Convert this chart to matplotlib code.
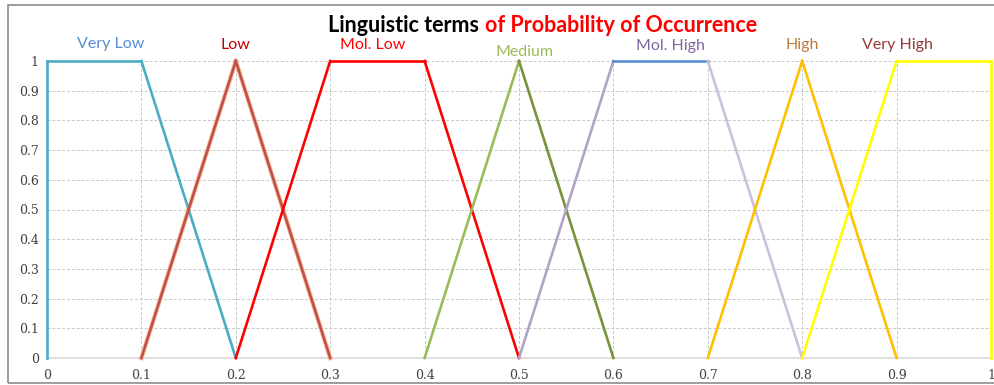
import matplotlib.pyplot as plt
from matplotlib.patches import Rectangle

# --- data ---
terms = ['Very Low', 'Low', 'Mol. Low', 'Medium', 'Mol. High', 'High', 'Very High']

very_low_x = [0, 0, 0.1, 0.2]
very_low_y = [0, 1, 1, 0]
low_x = [0.1, 0.2, 0.3]
low_y = [0, 1, 0]
mol_low_x = [0.2, 0.3, 0.4, 0.5]
mol_low_y = [0, 1, 1, 0]
medium_x = [0.4, 0.5, 0.6]
medium_y = [0, 1, 0]
mol_high_x = [0.5, 0.6, 0.7, 0.8]
mol_high_y = [0, 1, 1, 0]
high_x = [0.7, 0.8, 0.9]
high_y = [0, 1, 0]
very_high_x = [0.8, 0.9, 1.0, 1.0]
very_high_y = [0, 1, 1, 0]

xs = [very_low_x, low_x, mol_low_x, medium_x, mol_high_x, high_x, very_high_x]
ys = [very_low_y, low_y, mol_low_y, medium_y, mol_high_y, high_y, very_high_y]

# colour of each segment of each term
seg_colors = [
    ['#4BACC6', '#4BACC6', '#4BACC6'],
    ['#C0504D', '#C0504D'],
    ['#FF0000', '#FF0000', '#FF0000'],
    ['#9BBB59', '#77933C'],
    ['#B3A2C7', '#558ED5', '#CCC0DA'],
    ['#FFC000', '#FFC000'],
    ['#FFFF00', '#FFFF00', '#FFFF00'],
]
label_colors = ['#558ED5', '#C00000', '#FF0000', '#9BBB59', '#8064A2', '#BD7B3A', '#953735']
label_x = [0.067, 0.2, 0.345, 0.506, 0.66, 0.8, 0.901]
label_y = [1.057, 1.054, 1.054, 1.03, 1.05, 1.054, 1.054]

ticks = [0, 0.1, 0.2, 0.3, 0.4, 0.5, 0.6, 0.7, 0.8, 0.9, 1]
tick_labels = ['0', '0.1', '0.2', '0.3', '0.4', '0.5', '0.6', '0.7', '0.8', '0.9', '1']

# --- plot ---
fig = plt.figure(figsize=(9.94, 3.85), dpi=100)
ax = fig.add_axes([47 / 994, 1 - 358 / 385, 944 / 994, 297 / 385])

for x, y, cols in zip(xs, ys, seg_colors):
    for i, c in enumerate(cols):
        if c == '#C0504D':
            # glow under the "Low" line
            ax.plot(x[i:i + 2], y[i:i + 2], color='#FAC090', linewidth=3.2, clip_on=False, zorder=3)
        ax.plot(x[i:i + 2], y[i:i + 2], color=c, linewidth=1.9, clip_on=False, zorder=4)

for t, lx, ly, lc in zip(terms, label_x, label_y, label_colors):
    ax.text(lx, ly, t, color=lc, ha='center', va='center', fontsize=11.5,
            family='Lato', clip_on=False)

ax.set_xlim(0, 1)
ax.set_ylim(0, 1)
ax.set_xticks(ticks)
ax.set_xticklabels(tick_labels)
ax.set_yticks(ticks)
ax.set_yticklabels(tick_labels)
ax.tick_params(length=0, labelsize=9, pad=8)
for lbl in ax.get_xticklabels() + ax.get_yticklabels():
    lbl.set_family('DejaVu Serif')
    lbl.set_color('#404040')
ax.tick_params(axis='y', pad=6)

ax.grid(True, color='#C8C8C8', linestyle=(0, (3, 2)), linewidth=0.7)
ax.set_axisbelow(True)
for s in ['top', 'right', 'left']:
    ax.spines[s].set_visible(False)
ax.spines['bottom'].set_color('#D9D9D9')
ax.spines['bottom'].set_linewidth(1.2)

# title in two colours
fig.text(479 / 994, 1 - 26 / 385, 'Linguistic terms', ha='right', va='center',
         fontsize=15.5, fontweight='bold', family='Lato', color='black')
fig.text(485 / 994, 1 - 26 / 385, 'of Probability of Occurrence', ha='left', va='center',
         fontsize=15.5, fontweight='bold', family='Lato', color='#FF0000')

# outer frame
fig.patches.append(Rectangle((8 / 994, 2 / 385), 990 / 994, 378 / 385, transform=fig.transFigure,
                             fill=False, edgecolor='#8C8C8C', linewidth=1.2))

fig.savefig('out.png', dpi=100)
